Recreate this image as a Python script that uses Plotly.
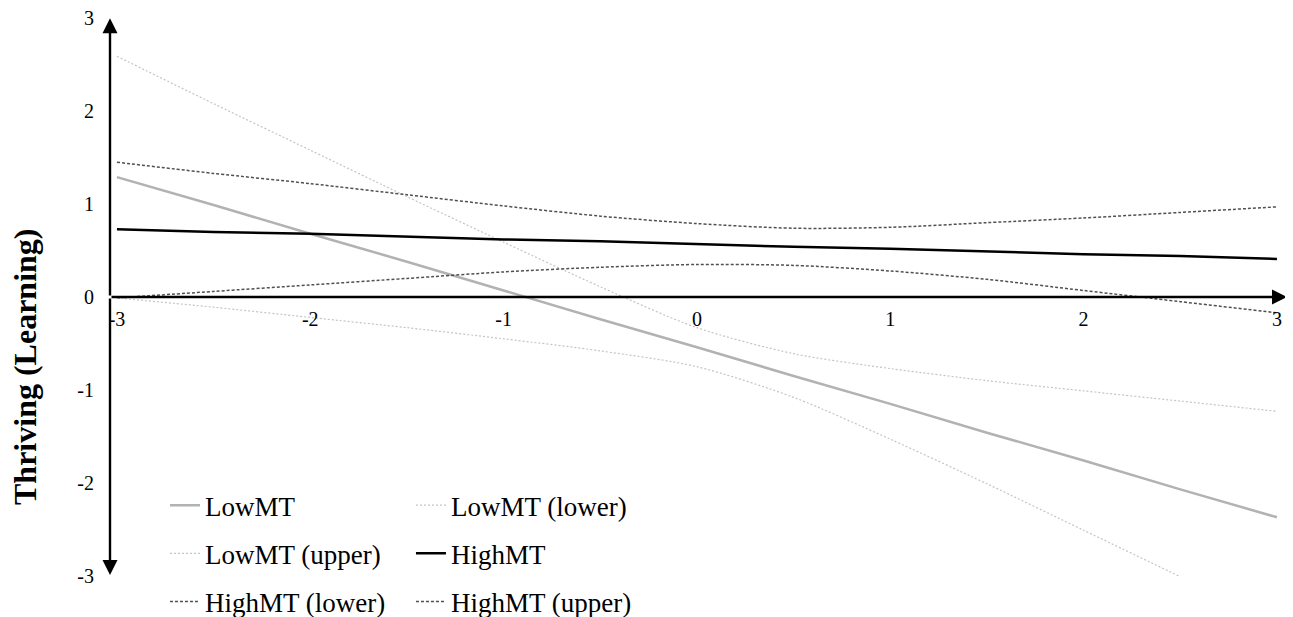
import plotly.graph_objects as go

# ---- data ----
x_vals = [-3, -2.5, -2, -1.5, -1, -0.5, 0, 0.5, 1, 1.5, 2, 2.5, 3]

low_mt       = [1.29, 0.99, 0.68, 0.38, 0.07, -0.24, -0.54, -0.85, -1.15, -1.46, -1.76, -2.07, -2.37]
low_mt_upper = [2.59, 2.08, 1.58, 1.08, 0.59, 0.11, -0.33, -0.61, -0.77, -0.90, -1.01, -1.12, -1.23]
low_mt_lower = [-0.01, -0.11, -0.22, -0.33, -0.45, -0.58, -0.75, -1.08, -1.53, -2.01, -2.51, -3.01, None]

high_mt       = [0.73, 0.70, 0.68, 0.65, 0.62, 0.60, 0.57, 0.54, 0.52, 0.49, 0.46, 0.44, 0.41]
high_mt_upper = [1.45, 1.33, 1.22, 1.10, 0.98, 0.87, 0.79, 0.74, 0.75, 0.80, 0.85, 0.91, 0.97]
high_mt_lower = [-0.01, 0.06, 0.13, 0.20, 0.27, 0.32, 0.35, 0.34, 0.28, 0.19, 0.07, -0.05, -0.17]

x_ticks = [-3, -2, -1, 0, 1, 2, 3]
x_tick_labels = ["-3", "-2", "-1", "0", "1", "2", "3"]
y_ticks = [3, 2, 1, 0, -1, -2, -3]
y_tick_labels = ["3", "2", "1", "0", "-1", "-2", "-3"]

y_title = "Thriving (Learning)"

FONT = "Liberation Serif, Times New Roman, serif"
LIGHT = "#c4c4c4"
MID = "#b2b2b2"
DARK = "#505050"

fig = go.Figure()

def add(name, y, color, width, dash, legend, group, shape="linear"):
    fig.add_trace(go.Scatter(
        x=x_vals, y=y, mode="lines", name=name,
        line=dict(color=color, width=width, dash=dash, shape=shape, smoothing=0.8),
        legend=legend, legendgroup=group, connectgaps=False,
        hoverinfo="skip",
    ))

# column 1 of legend
add("LowMT", low_mt, MID, 2.5, "solid", "legend", "g1")
add("LowMT (upper)", low_mt_upper, LIGHT, 1.2, "2px,2px", "legend", "g2", "spline")
add("HighMT (lower)", high_mt_lower, DARK, 1.5, "3px,2px", "legend", "g3", "spline")
# column 2 of legend
add("LowMT (lower)", low_mt_lower, LIGHT, 1.2, "2px,2px", "legend2", "g4", "spline")
add("HighMT", high_mt, "#000000", 2.5, "solid", "legend2", "g5")
add("HighMT (upper)", high_mt_upper, DARK, 1.5, "3px,2px", "legend2", "g6", "spline")

X_LEFT = -3.036
X_RIGHT = 3.052
Y_MIN = -3.002
Y_MAX = 3.002

arrow_common = dict(
    text="", showarrow=True, arrowhead=2, arrowsize=1.25, arrowwidth=2.4,
    arrowcolor="#000000", xref="x", yref="y", axref="x", ayref="y", standoff=0,
)
annotations = [
    dict(x=X_LEFT, y=3.0, ax=X_LEFT, ay=0, **arrow_common),
    dict(x=X_LEFT, y=-2.99, ax=X_LEFT, ay=0, **arrow_common),
    dict(x=X_RIGHT, y=0, ax=X_LEFT, ay=0, **arrow_common),
    dict(
        text="<b>" + y_title + "</b>", xref="paper", yref="paper", x=-0.0722, y=0.3746,
        xanchor="center", yanchor="middle", textangle=-90, showarrow=False,
        font=dict(family=FONT, size=32, color="#000000"),
    ),
]

legend_style = dict(
    font=dict(family=FONT, size=27, color="#000000"),
    bgcolor="rgba(0,0,0,0)", orientation="v", tracegroupgap=10,
    xanchor="left", yanchor="top", itemclick=False, itemdoubleclick=False,
)

# page body has an 8px margin, so the figure is 8px smaller and margins shifted
fig.update_layout(
    width=1285, height=609,
    paper_bgcolor="#ffffff", plot_bgcolor="#ffffff",
    margin=dict(l=102, r=6, t=10, b=41, autoexpand=False),
    showlegend=True,
    legend=dict(x=0.0467, y=0.170, **legend_style),
    legend2=dict(x=0.2557, y=0.170, **legend_style),
    annotations=annotations,
    xaxis=dict(
        range=[X_LEFT, X_RIGHT], tickvals=x_ticks, ticktext=x_tick_labels,
        anchor="free", position=0.5, showline=False, showgrid=False,
        zeroline=False, ticks="", ticklabelstandoff=8, ticklabeloverflow="allow",
        tickfont=dict(family=FONT, size=20, color="#000000"),
    ),
    yaxis=dict(
        range=[Y_MIN, Y_MAX], tickvals=y_ticks, ticktext=y_tick_labels,
        showline=False, showgrid=False, zeroline=False, ticks="",
        ticklabelstandoff=15, ticklabeloverflow="allow",
        tickfont=dict(family=FONT, size=20, color="#000000"),
    ),
)

fig.write_html("out.html")
